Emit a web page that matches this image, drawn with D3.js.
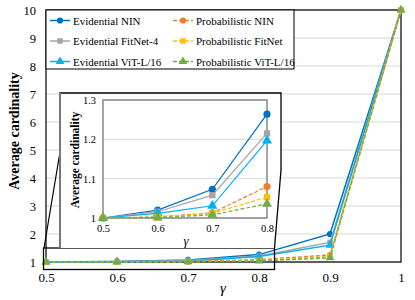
<!DOCTYPE html>
<html><head><meta charset="utf-8">
<script src="https://cdn.jsdelivr.net/npm/d3@7"></script>
<style>body{margin:0;background:#fff}svg{display:block;font-family:"Liberation Serif","Times New Roman",serif}</style>
</head><body><svg id="c" width="415" height="300"></svg>
<script>
const gammas = [0.5, 0.6, 0.7, 0.8, 0.9, 1.0];
const evidNIN    = [1, 1.020, 1.073, 1.264, 2.00, 10];
const evidFitNet = [1, 1.016, 1.058, 1.215, 1.70, 10];
const evidViT    = [1, 1.012, 1.031, 1.197, 1.60, 10];
const probNIN    = [1, 1.003, 1.013, 1.080, 1.25, 10];
const probFitNet = [1, 1.002, 1.012, 1.053, 1.20, 10];
const probViT    = [1, 1.001, 1.008, 1.036, 1.15, 10];
const seriesNames = ["Evidential NIN","Evidential FitNet-4","Evidential ViT-L/16","Probabilistic NIN","Probabilistic FitNet","Probabilistic ViT-L/16"];
const mainYTicks = [1,2,3,4,5,6,7,8,9,10];
const mainXTicks = [0.5,0.6,0.7,0.8,0.9,1.0];
const insetXTicks = [0.5,0.6,0.7,0.8];
const insetYTicks = [1,1.1,1.2,1.3];

const series = [
  {name: seriesNames[0], vals: evidNIN,    color:"#0070C0", sym:"circle",   dash:null},
  {name: seriesNames[1], vals: evidFitNet, color:"#A5A5A5", sym:"square",   dash:null},
  {name: seriesNames[2], vals: evidViT,    color:"#00B0F0", sym:"triangle", dash:null},
  {name: seriesNames[3], vals: probNIN,    color:"#ED7D31", sym:"circle",   dash:"4,2"},
  {name: seriesNames[4], vals: probFitNet, color:"#FFC000", sym:"square",   dash:"4,2"},
  {name: seriesNames[5], vals: probViT,    color:"#70AD47", sym:"triangle", dash:"4,2"}
];
const symMap = {circle: d3.symbolCircle, square: d3.symbolSquare, triangle: d3.symbolTriangle};

const svg = d3.select("#c");
const fmt = d => (d === 1 ? "1" : d.toFixed(1));

// main chart
const x = d3.scaleLinear().domain([0.5,1.0]).range([46,401]);
const y = d3.scaleLinear().domain([1,10]).range([262,10]);

const g = svg.append("g");
g.selectAll(".grid").data(mainYTicks).join("line")
  .attr("x1",46).attr("x2",401).attr("y1",d=>y(d)).attr("y2",d=>y(d))
  .attr("stroke","#d9d9d9").attr("stroke-width",1);

const xAxis = g.append("g").attr("transform","translate(0,262)")
  .call(d3.axisBottom(x).tickValues(mainXTicks).tickFormat(d=>d===1?"1":d.toFixed(1)).tickSize(0).tickPadding(11));
xAxis.select(".domain").remove();
xAxis.selectAll("text").attr("font-size",13).attr("fill","#000").attr("font-family","Liberation Serif");
const yAxis = g.append("g").attr("transform","translate(46,0)")
  .call(d3.axisLeft(y).tickValues(mainYTicks).tickFormat(d3.format("d")).tickSize(0).tickPadding(10));
yAxis.select(".domain").remove();
yAxis.selectAll("text").attr("font-size",12.5).attr("fill","#000").attr("font-family","Liberation Serif");

g.append("rect").attr("x",46).attr("y",10).attr("width",355).attr("height",252)
  .attr("fill","none").attr("stroke","#000").attr("stroke-width",1.2);

function drawSeries(gg, xs, ys, n, lw, msize) {
  series.forEach(s => {
    const pts = gammas.slice(0,n).map((gm,i)=>[xs(gm), ys(s.vals[i])]);
    gg.append("path").attr("d", d3.line()(pts)).attr("fill","none")
      .attr("stroke", s.color).attr("stroke-width", lw)
      .attr("stroke-dasharray", s.dash);
    gg.selectAll(null).data(pts).join("path")
      .attr("transform", p=>`translate(${p[0]},${p[1]})`)
      .attr("d", d3.symbol().type(symMap[s.sym]).size(s.sym==="triangle"?msize*1.1:msize))
      .attr("fill", s.color);
  });
}
drawSeries(g, x, y, 6, 1.5, 30);

g.append("text").attr("transform","translate(19,131) rotate(-90)").attr("text-anchor","middle")
  .attr("font-size",14).attr("font-weight","bold").text("Average cardinality");
g.append("text").attr("x",223).attr("y",293).attr("text-anchor","middle")
  .attr("font-size",15).attr("font-style","italic").text("γ");

// legend
const lg = svg.append("g");
lg.append("rect").attr("x",46).attr("y",10).attr("width",248).attr("height",59)
  .attr("fill","#fff").attr("stroke","#000").attr("stroke-width",1);
series.forEach((s,i) => {
  const col = i < 3 ? 0 : 1, row = i % 3;
  const lx = col === 0 ? 50 : 173, ly = 20.5 + row*20.5;
  lg.append("line").attr("x1",lx).attr("x2",lx+20).attr("y1",ly).attr("y2",ly)
    .attr("stroke",s.color).attr("stroke-width",1.5).attr("stroke-dasharray",s.dash);
  lg.append("path").attr("transform",`translate(${lx+10},${ly})`)
    .attr("d", d3.symbol().type(symMap[s.sym]).size(s.sym==="triangle"?34:30)).attr("fill",s.color);
  lg.append("text").attr("x",lx+23).attr("y",ly+4).attr("font-size",11).text(s.name);
});

// zoom rect + connectors
svg.append("rect").attr("x",43.5).attr("y",248).attr("width",231).attr("height",21.5)
  .attr("fill","none").attr("stroke","#000").attr("stroke-width",1.3);
svg.append("line").attr("x1",44).attr("y1",248).attr("x2",60).attr("y2",152).attr("stroke","#000").attr("stroke-width",1.2);

// inset
const ins = svg.append("g");
ins.append("path").attr("d","M60,248 L60,93 L281,93 L281,170 L274.5,248 Z")
  .attr("fill","#fff").attr("stroke","none");
ins.append("path").attr("d","M60,248 L60,93 L281,93 L281,170 L274.5,248")
  .attr("fill","none").attr("stroke","#000").attr("stroke-width",1.3);
ins.append("line").attr("x1",60).attr("x2",60).attr("y1",93).attr("y2",248).attr("stroke","#777").attr("stroke-width",2);

const xi = d3.scaleLinear().domain([0.5,0.8]).range([103,267]);
const yi = d3.scaleLinear().domain([1,1.3]).range([218,100]);
ins.selectAll(".ig").data(insetYTicks).join("line")
  .attr("x1",103).attr("x2",267).attr("y1",d=>yi(d)).attr("y2",d=>yi(d))
  .attr("stroke","#d9d9d9").attr("stroke-width",1);
ins.append("rect").attr("x",103).attr("y",100).attr("width",164).attr("height",118)
  .attr("fill","none").attr("stroke","#888").attr("stroke-width",1.5);
const ixa = ins.append("g").attr("transform","translate(0,218)")
  .call(d3.axisBottom(xi).tickValues(insetXTicks).tickFormat(d=>d.toFixed(1)).tickSize(0).tickPadding(7));
ixa.select(".domain").remove();
ixa.selectAll("text").attr("font-size",10.5).attr("fill","#000").attr("font-family","Liberation Serif");
const iya = ins.append("g").attr("transform","translate(103,0)")
  .call(d3.axisLeft(yi).tickValues(insetYTicks).tickFormat(fmt).tickSize(0).tickPadding(7));
iya.select(".domain").remove();
iya.selectAll("text").attr("font-size",10.5).attr("fill","#000").attr("font-family","Liberation Serif");
drawSeries(ins, xi, yi, 4, 1.2, 40);
ins.append("text").attr("transform","translate(79,160) rotate(-90)").attr("text-anchor","middle")
  .attr("font-size",11.5).attr("font-weight","bold").text("Average cardinality");
ins.append("text").attr("x",186).attr("y",245).attr("text-anchor","middle")
  .attr("font-size",13).attr("font-style","italic").text("γ");
</script></body></html>
